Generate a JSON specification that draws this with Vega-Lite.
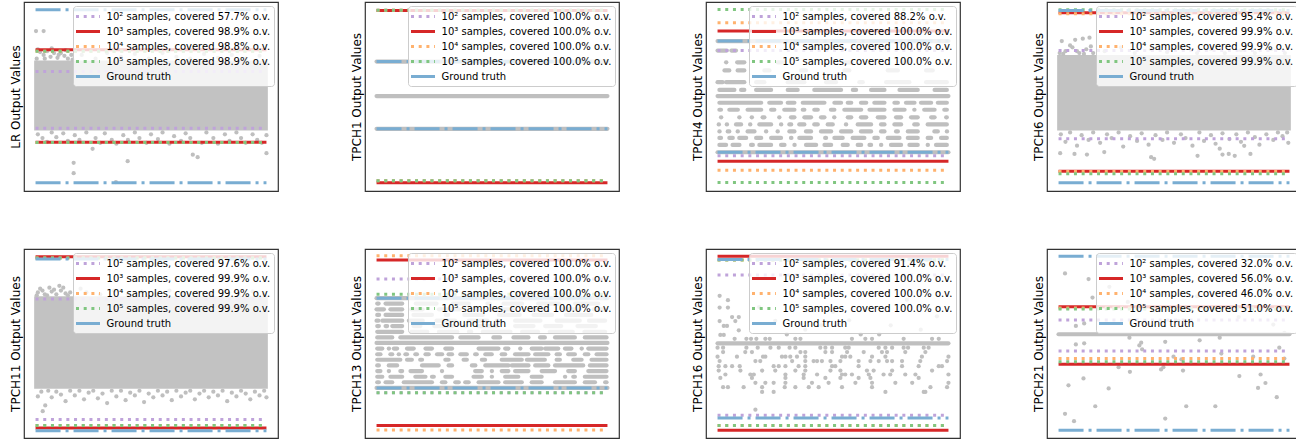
{
"$schema": "https://vega.github.io/schema/vega-lite/v6.json",
"padding": {"left": 8, "top": 1, "right": 0, "bottom": 0},
"columns": 4,
"spacing": {"column": 70, "row": 56},
"resolve": {"scale": {"color": "independent", "strokeDash": "independent"}, "legend": {"color": "independent", "strokeDash": "independent"}},
"concat": [
{
"width": 254, "height": 189,
"encoding": {"y": {"field": "y", "type": "quantitative", "scale": {"domain": [0, 100], "nice": false, "zero": false}, "axis": {"title": "LR Output Values"}}},
"layer": [
{"data": {"values": [{"y": 32, "y2": 69}]}, "mark": {"type": "rect", "color": "#c2c2c2"},
 "encoding": {"x": {"datum": -0.6, "type": "quantitative", "scale": {"domain": [-5, 105], "nice": false}, "axis": null}, "x2": {"datum": 100.6}, "y2": {"field": "y2"}}},
{"data": {"values": [
{"x":0.2,"y":84.6},{"x":3.5,"y":84.6},{"x":0.5,"y":70},{"x":2,"y":73.5},{"x":3.5,"y":72},{"x":5,"y":74},{"x":6.5,"y":71},{"x":8,"y":73},{"x":9.5,"y":70.5},{"x":11,"y":73},{"x":12.5,"y":71.5},{"x":14,"y":70},{"x":15.5,"y":72},{"x":1,"y":75},{"x":4,"y":70},{"x":7,"y":75.5},{"x":10,"y":72},{"x":13,"y":74.5},{"x":16,"y":69.5},
{"x":20,"y":72},{"x":26,"y":70},{"x":31,"y":73},{"x":37,"y":71},{"x":43,"y":72.5},{"x":49,"y":70},{"x":55,"y":73},{"x":61,"y":71},{"x":67,"y":70},{"x":73,"y":72.5},{"x":79,"y":70.5},{"x":85,"y":72},{"x":91,"y":70},{"x":97,"y":71.5},
{"x":1,"y":30},{"x":3,"y":28},{"x":5,"y":26},{"x":7,"y":31},{"x":9,"y":28.5},{"x":12,"y":30.5},{"x":14,"y":26.5},{"x":17,"y":29.5},{"x":19,"y":27},{"x":22,"y":31},{"x":24.7,"y":22.3},{"x":26,"y":28},{"x":28,"y":25.5},{"x":30,"y":30.5},{"x":33,"y":27},{"x":35,"y":25},{"x":38,"y":29.5},{"x":40,"y":27},{"x":43,"y":31},{"x":45,"y":28},{"x":48,"y":25.5},{"x":50,"y":30},{"x":53,"y":27.5},{"x":55,"y":31},{"x":58,"y":25},{"x":60,"y":29},{"x":63,"y":26.5},{"x":65,"y":30.5},{"x":68.1,"y":19.2},{"x":70.2,"y":17.9},{"x":67,"y":28},{"x":72,"y":25.5},{"x":74,"y":31},{"x":77,"y":28},{"x":79,"y":25},{"x":82,"y":30},{"x":84,"y":26.5},{"x":87,"y":31},{"x":89,"y":28},{"x":91,"y":25.5},{"x":94,"y":30},{"x":96,"y":27},{"x":98,"y":25.5},{"x":100,"y":29.5},{"x":100,"y":20},{"x":16.5,"y":14.9},{"x":16.5,"y":9.4},{"x":39.9,"y":15.8},{"x":34.8,"y":4.7}
]}, "mark": {"type": "circle", "size": 18, "color": "#bfbfbf", "opacity": 1},
 "encoding": {"x": {"field": "x", "type": "quantitative", "scale": {"domain": [-5, 105], "nice": false}, "axis": null}}},
{"data": {"values": [
{"s":"10² samples, covered 57.7% o.v.","y":63.2},{"s":"10² samples, covered 57.7% o.v.","y":33.2},
{"s":"10³ samples, covered 98.9% o.v.","y":74.7},{"s":"10³ samples, covered 98.9% o.v.","y":25.8},
{"s":"10⁴ samples, covered 98.8% o.v.","y":74.0},{"s":"10⁴ samples, covered 98.8% o.v.","y":25.6},
{"s":"10⁵ samples, covered 98.9% o.v.","y":74.0},{"s":"10⁵ samples, covered 98.9% o.v.","y":25.6}
]}, "mark": {"type": "rule", "strokeWidth": 3},
 "encoding": {"x": {"datum": 0, "type": "quantitative", "scale": {"domain": [-5, 105], "nice": false}, "axis": null}, "x2": {"datum": 100},
  "color": {"field": "s", "type": "nominal", "scale": {"domain": ["10² samples, covered 57.7% o.v.","10³ samples, covered 98.9% o.v.","10⁴ samples, covered 98.8% o.v.","10⁵ samples, covered 98.9% o.v.","Ground truth"], "range": ["#bfa3da","#d62728","#ffb26e","#80c680","#79add2"]}, "legend": {"title": null, "symbolType": "M-1.25,0H2.75"}},
  "strokeDash": {"field": "s", "type": "nominal", "scale": {"domain": ["10² samples, covered 57.7% o.v.","10³ samples, covered 98.9% o.v.","10⁴ samples, covered 98.8% o.v.","10⁵ samples, covered 98.9% o.v.","Ground truth"], "range": [[3,4.7],[1,0],[3,4.7],[3,4.7],[1,0]]}, "legend": {"title": null, "symbolType": "M-1.25,0H2.75"}}}},
{"data": {"values": [{"s":"Ground truth","y":95.9},{"s":"Ground truth","y":4.3}]}, "mark": {"type": "rule", "strokeWidth": 3, "strokeDash": [25, 5, 3, 5]},
 "encoding": {"x": {"datum": 0, "type": "quantitative", "scale": {"domain": [-5, 105], "nice": false}, "axis": null}, "x2": {"datum": 100},
  "color": {"field": "s", "type": "nominal", "scale": {"domain": ["10² samples, covered 57.7% o.v.","10³ samples, covered 98.9% o.v.","10⁴ samples, covered 98.8% o.v.","10⁵ samples, covered 98.9% o.v.","Ground truth"], "range": ["#bfa3da","#d62728","#ffb26e","#80c680","#79add2"]}, "legend": {"title": null, "symbolType": "M-1.25,0H2.75"}}}}
]
},
{
"width": 254, "height": 189,
"encoding": {"y": {"field": "y", "type": "quantitative", "scale": {"domain": [0, 100], "nice": false, "zero": false}, "axis": {"title": "TPCH1 Output Values"}}},
"layer": [
{"data": {"values": [{"y":68.5,"x":0,"x2":100},{"y":50.2,"x":0,"x2":100},{"y":32.9,"x":0,"x2":100}]}, "mark": {"type": "rule", "strokeWidth": 4.2, "strokeCap": "round", "color": "#bfbfbf"},
 "encoding": {"x": {"field": "x", "type": "quantitative", "scale": {"domain": [-5, 105], "nice": false}, "axis": null}, "x2": {"field": "x2"}}},
{"data": {"values": [
{"s":"10² samples, covered 100.0% o.v.","y":95.7},{"s":"10² samples, covered 100.0% o.v.","y":5.4},
{"s":"10³ samples, covered 100.0% o.v.","y":95.5},{"s":"10³ samples, covered 100.0% o.v.","y":4.3},
{"s":"10⁴ samples, covered 100.0% o.v.","y":95.7},{"s":"10⁴ samples, covered 100.0% o.v.","y":5.4},
{"s":"10⁵ samples, covered 100.0% o.v.","y":95.7},{"s":"10⁵ samples, covered 100.0% o.v.","y":5.4}
]}, "mark": {"type": "rule", "strokeWidth": 3},
 "encoding": {"x": {"datum": 0, "type": "quantitative", "scale": {"domain": [-5, 105], "nice": false}, "axis": null}, "x2": {"datum": 100},
  "color": {"field": "s", "type": "nominal", "scale": {"domain": ["10² samples, covered 100.0% o.v.","10³ samples, covered 100.0% o.v.","10⁴ samples, covered 100.0% o.v.","10⁵ samples, covered 100.0% o.v.","Ground truth"], "range": ["#bfa3da","#d62728","#ffb26e","#80c680","#79add2"]}, "legend": {"title": null, "symbolType": "M-1.25,0H2.75"}},
  "strokeDash": {"field": "s", "type": "nominal", "scale": {"domain": ["10² samples, covered 100.0% o.v.","10³ samples, covered 100.0% o.v.","10⁴ samples, covered 100.0% o.v.","10⁵ samples, covered 100.0% o.v.","Ground truth"], "range": [[3,4.7],[1,0],[3,4.7],[3,4.7],[1,0]]}, "legend": {"title": null, "symbolType": "M-1.25,0H2.75"}}}},
{"data": {"values": [{"s":"Ground truth","y":68.5},{"s":"Ground truth","y":32.9}]}, "mark": {"type": "rule", "strokeWidth": 3, "strokeDash": [25, 5, 3, 5]},
 "encoding": {"x": {"datum": 0, "type": "quantitative", "scale": {"domain": [-5, 105], "nice": false}, "axis": null}, "x2": {"datum": 100},
  "color": {"field": "s", "type": "nominal", "scale": {"domain": ["10² samples, covered 100.0% o.v.","10³ samples, covered 100.0% o.v.","10⁴ samples, covered 100.0% o.v.","10⁵ samples, covered 100.0% o.v.","Ground truth"], "range": ["#bfa3da","#d62728","#ffb26e","#80c680","#79add2"]}, "legend": {"title": null, "symbolType": "M-1.25,0H2.75"}}}}
]
},
{
"width": 254, "height": 189,
"encoding": {"y": {"field": "y", "type": "quantitative", "scale": {"domain": [0, 100], "nice": false, "zero": false}, "axis": {"title": "TPCH4 Output Values"}}},
"layer": [
{"data": {"values": [
{"y":20.5,"x":0,"x2":100},
{"y":24.4,"x":0.8,"x2":3.7},{"y":24.4,"x":6.5,"x2":9.5},{"y":24.4,"x":14.5,"x2":15.3},{"y":24.4,"x":18.1,"x2":23.2},{"y":24.4,"x":27.5,"x2":29},{"y":24.4,"x":33.3,"x2":33.4},{"y":24.4,"x":38.3,"x2":42.7},{"y":24.4,"x":46.3,"x2":49.2},{"y":24.4,"x":54.2,"x2":56.4},{"y":24.4,"x":60.7,"x2":62.2},{"y":24.4,"x":65.8,"x2":66.5},{"y":24.4,"x":70.8,"x2":70.9},{"y":24.4,"x":75.1,"x2":79.5},{"y":24.4,"x":83.1,"x2":86.7},{"y":24.4,"x":91,"x2":91.1},{"y":24.4,"x":94.6,"x2":99.3},
{"y":28.1,"x":0.8,"x2":1.5},{"y":28.1,"x":5.1,"x2":6.6},{"y":28.1,"x":9.4,"x2":12.4},{"y":28.1,"x":16.7,"x2":18.9},{"y":28.1,"x":23.2,"x2":27.5},{"y":28.1,"x":31.8,"x2":32},{"y":28.1,"x":35.4,"x2":40.5},{"y":28.1,"x":46.6,"x2":47},{"y":28.1,"x":50.6,"x2":54.2},{"y":28.1,"x":58.5,"x2":63.6},{"y":28.1,"x":67.9,"x2":69.4},{"y":28.1,"x":73.7,"x2":78.8},{"y":28.1,"x":82.4,"x2":86.7},{"y":28.1,"x":91,"x2":92.5},{"y":28.1,"x":96.8,"x2":99.3},
{"y":31.5,"x":0.8,"x2":0.9},{"y":31.5,"x":4.4,"x2":5.1},{"y":31.5,"x":8.7,"x2":8.8},{"y":31.5,"x":13,"x2":16},{"y":31.5,"x":21,"x2":21.1},{"y":31.5,"x":26,"x2":26.1},{"y":31.5,"x":31.1,"x2":33.3},{"y":31.5,"x":38.3,"x2":40.5},{"y":31.5,"x":44.8,"x2":49.2},{"y":31.5,"x":53.5,"x2":57.9},{"y":31.5,"x":62.1,"x2":66.5},{"y":31.5,"x":70.8,"x2":72.3},{"y":31.5,"x":77.3,"x2":78.1},{"y":31.5,"x":82.4,"x2":86.7},{"y":31.5,"x":93.9,"x2":95.4},{"y":31.5,"x":99.3,"x2":99.4},
{"y":35.2,"x":0.5,"x2":0.6},{"y":35.2,"x":4,"x2":4.1},{"y":35.2,"x":8,"x2":10.2},{"y":35.2,"x":14.1,"x2":14.2},{"y":35.2,"x":18.1,"x2":23.2},{"y":35.2,"x":27.5,"x2":27.6},{"y":35.2,"x":31.1,"x2":31.9},{"y":35.2,"x":35.4,"x2":37.6},{"y":35.2,"x":41.9,"x2":43.4},{"y":35.2,"x":47.7,"x2":49.9},{"y":35.2,"x":55.6,"x2":55.7},{"y":35.2,"x":60.7,"x2":66.5},{"y":35.2,"x":70.8,"x2":72.3},{"y":35.2,"x":76.6,"x2":79.5},{"y":35.2,"x":85.2,"x2":86.7},{"y":35.2,"x":91,"x2":99.3},
{"y":39.0,"x":1.5,"x2":1.6},{"y":39.0,"x":9.4,"x2":9.5},{"y":39.0,"x":14.8,"x2":14.9},{"y":39.0,"x":19.5,"x2":20.3},{"y":39.0,"x":26.7,"x2":26.8},{"y":39.0,"x":31.8,"x2":33.3},{"y":39.0,"x":37.6,"x2":40.5},{"y":39.0,"x":44.8,"x2":46.3},{"y":39.0,"x":50.5,"x2":50.6},{"y":39.0,"x":56.4,"x2":57.9},{"y":39.0,"x":62.1,"x2":64.4},{"y":39.0,"x":69.4,"x2":72.3},{"y":39.0,"x":77.3,"x2":79.5},{"y":39.0,"x":83.8,"x2":86.7},{"y":39.0,"x":92.5,"x2":94},{"y":39.0,"x":99,"x2":99.3},
{"y":43.0,"x":0.8,"x2":1.5},{"y":43.0,"x":5.1,"x2":8.8},{"y":43.0,"x":13,"x2":18.9},{"y":43.0,"x":23.2,"x2":24.6},{"y":43.0,"x":28.9,"x2":33.3},{"y":43.0,"x":36.9,"x2":37.6},{"y":43.0,"x":41.9,"x2":43.4},{"y":43.0,"x":49.1,"x2":50.6},{"y":43.0,"x":54.9,"x2":62.2},{"y":43.0,"x":65.8,"x2":72.3},{"y":43.0,"x":76.6,"x2":81},{"y":43.0,"x":85.2,"x2":85.3},{"y":43.0,"x":89.5,"x2":94},{"y":43.0,"x":98.2,"x2":99.3},
{"y":46.7,"x":0.8,"x2":18.9},{"y":46.7,"x":22.4,"x2":27.5},{"y":46.7,"x":30.4,"x2":33.3},{"y":46.7,"x":36.9,"x2":46.3},{"y":46.7,"x":50.6,"x2":53.5},{"y":46.7,"x":56.4,"x2":57.9},{"y":46.7,"x":62.1,"x2":64.4},{"y":46.7,"x":67.9,"x2":72.3},{"y":46.7,"x":76.6,"x2":78.1},{"y":46.7,"x":81.6,"x2":85.3},{"y":46.7,"x":88.1,"x2":92.5},{"y":46.7,"x":95.4,"x2":99.3},
{"y":50.2,"x":0,"x2":100},
{"y":53.5,"x":0.8,"x2":7.3},{"y":53.5,"x":10.2,"x2":11.6},{"y":53.5,"x":16.7,"x2":23.2},{"y":53.5,"x":30.4,"x2":34.7},{"y":53.5,"x":41.9,"x2":53.5},{"y":53.5,"x":58.6,"x2":60},{"y":53.5,"x":66.5,"x2":72.3},{"y":53.5,"x":78.8,"x2":86.7},{"y":53.5,"x":94,"x2":99.3},
{"y":57.6,"x":0,"x2":2.2},{"y":57.6,"x":3.7,"x2":11.6},{"y":57.6,"x":16.7,"x2":20.3},{"y":57.6,"x":30.4,"x2":37.6},{"y":57.6,"x":47,"x2":51.3},{"y":57.6,"x":61.4,"x2":62.9},{"y":57.6,"x":73,"x2":83.1},{"y":57.6,"x":90.3,"x2":99.3},
{"y":63.8,"x":3,"x2":5.1},{"y":63.8,"x":8.7,"x2":11.6},{"y":63.8,"x":20.3,"x2":22.5},{"y":63.8,"x":36.2,"x2":38.3},{"y":63.8,"x":54.9,"x2":57.1},{"y":63.8,"x":73.7,"x2":78.1},{"y":63.8,"x":90.3,"x2":93.2},
{"y":68.1,"x":3.7,"x2":3.8},{"y":68.1,"x":8.5,"x2":11.6},{"y":68.1,"x":26,"x2":29},{"y":68.1,"x":55,"x2":58},{"y":68.1,"x":80,"x2":83},
{"y":74.3,"x":0,"x2":4},{"y":74.3,"x":6,"x2":8},
{"y":79.3,"x":0,"x2":100}
]}, "mark": {"type": "rule", "strokeWidth": 4.2, "strokeCap": "round", "color": "#bfbfbf"},
 "encoding": {"x": {"field": "x", "type": "quantitative", "scale": {"domain": [-5, 105], "nice": false}, "axis": null}, "x2": {"field": "x2"}}},
{"data": {"values": [
{"s":"10² samples, covered 88.2% o.v.","y":74.3},{"s":"10² samples, covered 88.2% o.v.","y":18.6},
{"s":"10³ samples, covered 100.0% o.v.","y":84.6},{"s":"10³ samples, covered 100.0% o.v.","y":15.8},
{"s":"10⁴ samples, covered 100.0% o.v.","y":89.0},{"s":"10⁴ samples, covered 100.0% o.v.","y":11.0},
{"s":"10⁵ samples, covered 100.0% o.v.","y":96.0},{"s":"10⁵ samples, covered 100.0% o.v.","y":4.5}
]}, "mark": {"type": "rule", "strokeWidth": 3},
 "encoding": {"x": {"datum": 0, "type": "quantitative", "scale": {"domain": [-5, 105], "nice": false}, "axis": null}, "x2": {"datum": 100},
  "color": {"field": "s", "type": "nominal", "scale": {"domain": ["10² samples, covered 88.2% o.v.","10³ samples, covered 100.0% o.v.","10⁴ samples, covered 100.0% o.v.","10⁵ samples, covered 100.0% o.v.","Ground truth"], "range": ["#bfa3da","#d62728","#ffb26e","#80c680","#79add2"]}, "legend": {"title": null, "symbolType": "M-1.25,0H2.75"}},
  "strokeDash": {"field": "s", "type": "nominal", "scale": {"domain": ["10² samples, covered 88.2% o.v.","10³ samples, covered 100.0% o.v.","10⁴ samples, covered 100.0% o.v.","10⁵ samples, covered 100.0% o.v.","Ground truth"], "range": [[3,4.7],[1,0],[3,4.7],[3,4.7],[1,0]]}, "legend": {"title": null, "symbolType": "M-1.25,0H2.75"}}}},
{"data": {"values": [{"s":"Ground truth","y":79.3},{"s":"Ground truth","y":20.5}]}, "mark": {"type": "rule", "strokeWidth": 3, "strokeDash": [25, 5, 3, 5]},
 "encoding": {"x": {"datum": 0, "type": "quantitative", "scale": {"domain": [-5, 105], "nice": false}, "axis": null}, "x2": {"datum": 100},
  "color": {"field": "s", "type": "nominal", "scale": {"domain": ["10² samples, covered 88.2% o.v.","10³ samples, covered 100.0% o.v.","10⁴ samples, covered 100.0% o.v.","10⁵ samples, covered 100.0% o.v.","Ground truth"], "range": ["#bfa3da","#d62728","#ffb26e","#80c680","#79add2"]}, "legend": {"title": null, "symbolType": "M-1.25,0H2.75"}}}}
]
},
{
"width": 254, "height": 189,
"encoding": {"y": {"field": "y", "type": "quantitative", "scale": {"domain": [0, 100], "nice": false, "zero": false}, "axis": {"title": "TPCH6 Output Values"}}},
"layer": [
{"data": {"values": [{"y": 32, "y2": 72}]}, "mark": {"type": "rect", "color": "#c2c2c2"},
 "encoding": {"x": {"datum": -0.6, "type": "quantitative", "scale": {"domain": [-5, 105], "nice": false}, "axis": null}, "x2": {"datum": 100.6}, "y2": {"field": "y2"}}},
{"data": {"values": [
{"x":1.4,"y":79.3},{"x":7.2,"y":80},{"x":10.5,"y":80.6},{"x":13.4,"y":81.1},{"x":3,"y":74},{"x":6,"y":76},{"x":9,"y":73},{"x":12,"y":75},{"x":15,"y":73},{"x":2,"y":72.5},{"x":5,"y":77},{"x":8,"y":74},{"x":11,"y":72.5},{"x":14,"y":76.5},{"x":0.5,"y":73},
{"x":20,"y":74},{"x":27,"y":76},{"x":33,"y":73},{"x":40,"y":75},{"x":47,"y":73.5},{"x":53,"y":76},{"x":60,"y":73},{"x":66,"y":75},{"x":72,"y":73},{"x":79,"y":74.5},{"x":85,"y":73},{"x":92,"y":75},{"x":98,"y":73},
{"x":0.7,"y":20},{"x":6.9,"y":19.6},{"x":12.3,"y":19.3},{"x":19.8,"y":20.6},{"x":40.1,"y":17.9},{"x":41.4,"y":17},{"x":60.2,"y":18.6},{"x":71,"y":19.3},{"x":73.7,"y":19.6},{"x":76.3,"y":18.6},{"x":83.1,"y":19.6},{"x":69.8,"y":22.4},{"x":80.4,"y":23.9},
{"x":1,"y":30},{"x":3,"y":26},{"x":5,"y":31},{"x":8,"y":24},{"x":10,"y":29.5},{"x":13,"y":27},{"x":15,"y":31},{"x":18,"y":25.5},{"x":21,"y":30},{"x":23,"y":28},{"x":26,"y":31},{"x":28,"y":23.5},{"x":31,"y":29},{"x":34,"y":26.5},{"x":36,"y":30.5},{"x":39,"y":24.5},{"x":42,"y":29.5},{"x":45,"y":27},{"x":47,"y":31},{"x":50,"y":25.5},{"x":53,"y":30},{"x":55,"y":28},{"x":58,"y":24},{"x":61,"y":31},{"x":63,"y":26.5},{"x":66,"y":29.5},{"x":68,"y":25},{"x":71,"y":30.5},{"x":74,"y":27.5},{"x":77,"y":30},{"x":79,"y":26},{"x":82,"y":31},{"x":85,"y":28.5},{"x":87,"y":24.5},{"x":90,"y":30},{"x":93,"y":27},{"x":95,"y":31},{"x":97,"y":29},{"x":99.5,"y":25.5},{"x":99,"y":31}
]}, "mark": {"type": "circle", "size": 18, "color": "#bfbfbf", "opacity": 1},
 "encoding": {"x": {"field": "x", "type": "quantitative", "scale": {"domain": [-5, 105], "nice": false}, "axis": null}}},
{"data": {"values": [
{"s":"10² samples, covered 95.4% o.v.","y":74.3},{"s":"10² samples, covered 95.4% o.v.","y":27.6},
{"s":"10³ samples, covered 99.9% o.v.","y":94.3},{"s":"10³ samples, covered 99.9% o.v.","y":10.5},
{"s":"10⁴ samples, covered 99.9% o.v.","y":93.8},{"s":"10⁴ samples, covered 99.9% o.v.","y":10.3},
{"s":"10⁵ samples, covered 99.9% o.v.","y":95.9},{"s":"10⁵ samples, covered 99.9% o.v.","y":9.1}
]}, "mark": {"type": "rule", "strokeWidth": 3},
 "encoding": {"x": {"datum": 0, "type": "quantitative", "scale": {"domain": [-5, 105], "nice": false}, "axis": null}, "x2": {"datum": 100},
  "color": {"field": "s", "type": "nominal", "scale": {"domain": ["10² samples, covered 95.4% o.v.","10³ samples, covered 99.9% o.v.","10⁴ samples, covered 99.9% o.v.","10⁵ samples, covered 99.9% o.v.","Ground truth"], "range": ["#bfa3da","#d62728","#ffb26e","#80c680","#79add2"]}, "legend": {"title": null, "symbolType": "M-1.25,0H2.75"}},
  "strokeDash": {"field": "s", "type": "nominal", "scale": {"domain": ["10² samples, covered 95.4% o.v.","10³ samples, covered 99.9% o.v.","10⁴ samples, covered 99.9% o.v.","10⁵ samples, covered 99.9% o.v.","Ground truth"], "range": [[3,4.7],[1,0],[3,4.7],[3,4.7],[1,0]]}, "legend": {"title": null, "symbolType": "M-1.25,0H2.75"}}}},
{"data": {"values": [{"s":"Ground truth","y":95.5},{"s":"Ground truth","y":4.3}]}, "mark": {"type": "rule", "strokeWidth": 3, "strokeDash": [25, 5, 3, 5]},
 "encoding": {"x": {"datum": 0, "type": "quantitative", "scale": {"domain": [-5, 105], "nice": false}, "axis": null}, "x2": {"datum": 100},
  "color": {"field": "s", "type": "nominal", "scale": {"domain": ["10² samples, covered 95.4% o.v.","10³ samples, covered 99.9% o.v.","10⁴ samples, covered 99.9% o.v.","10⁵ samples, covered 99.9% o.v.","Ground truth"], "range": ["#bfa3da","#d62728","#ffb26e","#80c680","#79add2"]}, "legend": {"title": null, "symbolType": "M-1.25,0H2.75"}}}}
]
},
{
"width": 254, "height": 189,
"encoding": {"y": {"field": "y", "type": "quantitative", "scale": {"domain": [0, 100], "nice": false, "zero": false}, "axis": {"title": "TPCH11 Output Values"}}},
"layer": [
{"data": {"values": [{"y": 26, "y2": 75}]}, "mark": {"type": "rect", "color": "#c2c2c2"},
 "encoding": {"x": {"datum": -0.6, "type": "quantitative", "scale": {"domain": [-5, 105], "nice": false}, "axis": null}, "x2": {"datum": 100.6}, "y2": {"field": "y2"}}},
{"data": {"values": [
{"x":10.3,"y":80.5},{"x":19.5,"y":79},{"x":1,"y":77},{"x":3,"y":78},{"x":5,"y":75.5},{"x":7,"y":77.5},{"x":9,"y":76},{"x":11,"y":78},{"x":13,"y":76.5},{"x":15,"y":77},{"x":2,"y":79},{"x":4,"y":76},{"x":6,"y":79.5},{"x":8,"y":78.5},{"x":12,"y":79.5},{"x":14,"y":75.5},{"x":0.5,"y":75.5},
{"x":22,"y":77},{"x":28,"y":76},{"x":34,"y":78},{"x":40,"y":76},{"x":46,"y":77.5},{"x":52,"y":76},{"x":58,"y":78},{"x":64,"y":76.5},{"x":70,"y":77},{"x":76,"y":76},{"x":82,"y":78},{"x":88,"y":76},{"x":94,"y":77.5},{"x":99,"y":76},
{"x":3.1,"y":14.2},{"x":4.2,"y":17.2},{"x":1,"y":22},{"x":2.5,"y":24.5},{"x":5.5,"y":25},{"x":7,"y":21.5},{"x":9,"y":24.5},{"x":11,"y":23},{"x":13,"y":19.5},{"x":15,"y":25},{"x":17,"y":22.5},{"x":19,"y":25},{"x":21,"y":20.5},{"x":23,"y":24},{"x":25,"y":25},{"x":27,"y":21},{"x":29,"y":23.5},{"x":31,"y":18.5},{"x":33,"y":25},{"x":35,"y":22},{"x":37,"y":25},{"x":39,"y":20},{"x":41,"y":24},{"x":43,"y":22.5},{"x":45,"y":25},{"x":47,"y":19},{"x":49,"y":23.5},{"x":51,"y":21.5},{"x":53,"y":25},{"x":55,"y":22.5},{"x":57,"y":24.5},{"x":59,"y":20},{"x":61,"y":25},{"x":63,"y":22},{"x":65,"y":24},{"x":67,"y":25},{"x":69,"y":20.5},{"x":71,"y":23.5},{"x":73,"y":25},{"x":75,"y":21.5},{"x":77,"y":24.5},{"x":79,"y":22.5},{"x":81,"y":25},{"x":83,"y":19.5},{"x":85,"y":24},{"x":87,"y":22},{"x":89,"y":25},{"x":91,"y":23.5},{"x":93,"y":20.5},{"x":95,"y":24.5},{"x":97,"y":22.5},{"x":99,"y":25},{"x":100,"y":21.5}
]}, "mark": {"type": "circle", "size": 18, "color": "#bfbfbf", "opacity": 1},
 "encoding": {"x": {"field": "x", "type": "quantitative", "scale": {"domain": [-5, 105], "nice": false}, "axis": null}}},
{"data": {"values": [
{"s":"10² samples, covered 97.6% o.v.","y":73.5},{"s":"10² samples, covered 97.6% o.v.","y":9.8},
{"s":"10³ samples, covered 99.9% o.v.","y":95.9},{"s":"10³ samples, covered 99.9% o.v.","y":5.3},
{"s":"10⁴ samples, covered 99.9% o.v.","y":95.2},{"s":"10⁴ samples, covered 99.9% o.v.","y":6.6},
{"s":"10⁵ samples, covered 99.9% o.v.","y":95.2},{"s":"10⁵ samples, covered 99.9% o.v.","y":6.6}
]}, "mark": {"type": "rule", "strokeWidth": 3},
 "encoding": {"x": {"datum": 0, "type": "quantitative", "scale": {"domain": [-5, 105], "nice": false}, "axis": null}, "x2": {"datum": 100},
  "color": {"field": "s", "type": "nominal", "scale": {"domain": ["10² samples, covered 97.6% o.v.","10³ samples, covered 99.9% o.v.","10⁴ samples, covered 99.9% o.v.","10⁵ samples, covered 99.9% o.v.","Ground truth"], "range": ["#bfa3da","#d62728","#ffb26e","#80c680","#79add2"]}, "legend": {"title": null, "symbolType": "M-1.25,0H2.75"}},
  "strokeDash": {"field": "s", "type": "nominal", "scale": {"domain": ["10² samples, covered 97.6% o.v.","10³ samples, covered 99.9% o.v.","10⁴ samples, covered 99.9% o.v.","10⁵ samples, covered 99.9% o.v.","Ground truth"], "range": [[3,4.7],[1,0],[3,4.7],[3,4.7],[1,0]]}, "legend": {"title": null, "symbolType": "M-1.25,0H2.75"}}}},
{"data": {"values": [{"s":"Ground truth","y":94.7},{"s":"Ground truth","y":3.9}]}, "mark": {"type": "rule", "strokeWidth": 3, "strokeDash": [25, 5, 3, 5]},
 "encoding": {"x": {"datum": 0, "type": "quantitative", "scale": {"domain": [-5, 105], "nice": false}, "axis": null}, "x2": {"datum": 100},
  "color": {"field": "s", "type": "nominal", "scale": {"domain": ["10² samples, covered 97.6% o.v.","10³ samples, covered 99.9% o.v.","10⁴ samples, covered 99.9% o.v.","10⁵ samples, covered 99.9% o.v.","Ground truth"], "range": ["#bfa3da","#d62728","#ffb26e","#80c680","#79add2"]}, "legend": {"title": null, "symbolType": "M-1.25,0H2.75"}}}}
]
},
{
"width": 254, "height": 189,
"encoding": {"y": {"field": "y", "type": "quantitative", "scale": {"domain": [0, 100], "nice": false, "zero": false}, "axis": {"title": "TPCH13 Output Values"}}},
"layer": [
{"data": {"values": [
{"y":26.5,"x":0,"x2":100},
{"y":29.5,"x":0.3,"x2":1},{"y":29.5,"x":3.9,"x2":6.8},{"y":29.5,"x":11.8,"x2":24},{"y":29.5,"x":28.3,"x2":29.8},{"y":29.5,"x":34.1,"x2":35.6},{"y":29.5,"x":38.4,"x2":39.9},{"y":29.5,"x":44.2,"x2":52.8},{"y":29.5,"x":55.7,"x2":62.9},{"y":29.5,"x":67.2,"x2":71.5},{"y":29.5,"x":77.3,"x2":85.9},{"y":29.5,"x":90.2,"x2":94.6},{"y":29.5,"x":99,"x2":99.6},
{"y":32.4,"x":0.3,"x2":2.5},{"y":32.4,"x":6,"x2":11.1},{"y":32.4,"x":16.8,"x2":21.2},{"y":32.4,"x":24,"x2":24.8},{"y":32.4,"x":29.8,"x2":32.7},{"y":32.4,"x":42,"x2":45.6},{"y":32.4,"x":49.9,"x2":50},{"y":32.4,"x":55.7,"x2":61.4},{"y":32.4,"x":67.2,"x2":71.5},{"y":32.4,"x":81.6,"x2":81.7},{"y":32.4,"x":85.2,"x2":85.9},{"y":32.4,"x":90.2,"x2":99.6},
{"y":35.4,"x":0.3,"x2":1.7},{"y":35.4,"x":5.3,"x2":5.4},{"y":35.4,"x":10.3,"x2":11.1},{"y":35.4,"x":14.7,"x2":19.7},{"y":35.4,"x":28.3,"x2":28.4},{"y":35.4,"x":42.7,"x2":45.6},{"y":35.4,"x":49.9,"x2":50},{"y":35.4,"x":54.2,"x2":57.1},{"y":35.4,"x":60,"x2":65.8},{"y":35.4,"x":71.5,"x2":77.3},{"y":35.4,"x":83,"x2":85.9},{"y":35.4,"x":91.7,"x2":99.6},
{"y":38.4,"x":0.3,"x2":1},{"y":38.4,"x":5.3,"x2":8.9},{"y":38.4,"x":19.7,"x2":26.9},{"y":38.4,"x":31.2,"x2":32.7},{"y":38.4,"x":41.3,"x2":42.8},{"y":38.4,"x":47.1,"x2":57.1},{"y":38.4,"x":58.6,"x2":65.8},{"y":38.4,"x":68.7,"x2":74.4},{"y":38.4,"x":77.3,"x2":89.5},{"y":38.4,"x":92.4,"x2":99.6},
{"y":41.4,"x":0.3,"x2":10.3},{"y":41.4,"x":13.2,"x2":15.3},{"y":41.4,"x":18.9,"x2":19.7},{"y":41.4,"x":29.8,"x2":31.2},{"y":41.4,"x":37.7,"x2":39.1},{"y":41.4,"x":45.6,"x2":47},{"y":41.4,"x":54.2,"x2":62.9},{"y":41.4,"x":65.1,"x2":72.9},{"y":41.4,"x":78,"x2":79.4},{"y":41.4,"x":85.2,"x2":88.8},{"y":41.4,"x":93.1,"x2":99.6},
{"y":44.3,"x":0.3,"x2":1.7},{"y":44.3,"x":6,"x2":6.8},{"y":44.3,"x":9.6,"x2":9.7},{"y":44.3,"x":12.5,"x2":13.2},{"y":44.3,"x":16.8,"x2":17.5},{"y":44.3,"x":21.2,"x2":22.6},{"y":44.3,"x":26.2,"x2":28.4},{"y":44.3,"x":31.2,"x2":32.7},{"y":44.3,"x":36.3,"x2":39.1},{"y":44.3,"x":42.7,"x2":43.4},{"y":44.3,"x":47.1,"x2":49.9},{"y":44.3,"x":54.2,"x2":55.7},{"y":44.3,"x":60,"x2":65.8},{"y":44.3,"x":68.7,"x2":74.4},{"y":44.3,"x":78,"x2":79.4},{"y":44.3,"x":83,"x2":85.9},{"y":44.3,"x":90.2,"x2":91.7},{"y":44.3,"x":95.3,"x2":99.6},
{"y":47.3,"x":0.3,"x2":2.5},{"y":47.3,"x":5.3,"x2":5.4},{"y":47.3,"x":7.5,"x2":8.9},{"y":47.3,"x":13.2,"x2":16.1},{"y":47.3,"x":21.2,"x2":24},{"y":47.3,"x":29.8,"x2":32.7},{"y":47.3,"x":44.2,"x2":52.8},{"y":47.3,"x":55.7,"x2":57.1},{"y":47.3,"x":62.2,"x2":62.3},{"y":47.3,"x":67.2,"x2":71.5},{"y":47.3,"x":73,"x2":78.7},{"y":47.3,"x":81.6,"x2":84.4},{"y":47.3,"x":88.8,"x2":88.9},{"y":47.3,"x":91.7,"x2":99.6},
{"y":50.3,"x":0,"x2":100},
{"y":53.2,"x":0.3,"x2":6.8},{"y":53.2,"x":10.3,"x2":32.7},{"y":53.2,"x":36.3,"x2":44.2},{"y":53.2,"x":50.6,"x2":53.5},{"y":53.2,"x":59.3,"x2":65.8},{"y":53.2,"x":70.8,"x2":72.9},{"y":53.2,"x":77.3,"x2":85.9},{"y":53.2,"x":90.2,"x2":99.6},
{"y":56.2,"x":0.3,"x2":11.1},{"y":56.2,"x":15,"x2":22},{"y":56.2,"x":27,"x2":35},{"y":56.2,"x":40,"x2":41},{"y":56.2,"x":46,"x2":58},{"y":56.2,"x":63,"x2":70},{"y":56.2,"x":75,"x2":85},{"y":56.2,"x":90,"x2":99},
{"y":59.2,"x":0.3,"x2":1},{"y":59.2,"x":3.9,"x2":4.6},{"y":59.2,"x":6.8,"x2":11.1},{"y":59.2,"x":16,"x2":19},{"y":59.2,"x":25,"x2":33},{"y":59.2,"x":38,"x2":39},{"y":59.2,"x":44,"x2":52},{"y":59.2,"x":60,"x2":68},{"y":59.2,"x":73,"x2":80},{"y":59.2,"x":87,"x2":95},
{"y":62.1,"x":0,"x2":0.8},{"y":62.1,"x":2.5,"x2":11.1},{"y":62.1,"x":14,"x2":20},{"y":62.1,"x":26,"x2":34},{"y":62.1,"x":40,"x2":48},{"y":62.1,"x":52,"x2":53},{"y":62.1,"x":60,"x2":71},{"y":62.1,"x":78,"x2":88},{"y":62.1,"x":92,"x2":99},
{"y":65.1,"x":0.3,"x2":1.1},{"y":65.1,"x":3.9,"x2":11.1},{"y":65.1,"x":16,"x2":24},{"y":65.1,"x":30,"x2":31},{"y":65.1,"x":38,"x2":46},{"y":65.1,"x":53,"x2":62},{"y":65.1,"x":68,"x2":76},{"y":65.1,"x":82,"x2":93},
{"y":68.1,"x":0,"x2":3.2},{"y":68.1,"x":6,"x2":11.1},{"y":68.1,"x":15,"x2":20},{"y":68.1,"x":27,"x2":36},{"y":68.1,"x":43,"x2":44},{"y":68.1,"x":50,"x2":59},{"y":68.1,"x":66,"x2":74},{"y":68.1,"x":80,"x2":88},{"y":68.1,"x":94,"x2":99},
{"y":71.1,"x":0.3,"x2":0.9},{"y":71.1,"x":3.9,"x2":11.1},{"y":71.1,"x":17,"x2":26},{"y":71.1,"x":33,"x2":40},{"y":71.1,"x":48,"x2":49},{"y":71.1,"x":55,"x2":63},{"y":71.1,"x":70,"x2":79},{"y":71.1,"x":86,"x2":96},
{"y":74.0,"x":0,"x2":100}
]}, "mark": {"type": "rule", "strokeWidth": 4.2, "strokeCap": "round", "color": "#bfbfbf"},
 "encoding": {"x": {"field": "x", "type": "quantitative", "scale": {"domain": [-5, 105], "nice": false}, "axis": null}, "x2": {"field": "x2"}}},
{"data": {"values": [
{"s":"10² samples, covered 100.0% o.v.","y":84.1},{"s":"10² samples, covered 100.0% o.v.","y":23.9},
{"s":"10³ samples, covered 100.0% o.v.","y":94.2},{"s":"10³ samples, covered 100.0% o.v.","y":6.6},
{"s":"10⁴ samples, covered 100.0% o.v.","y":96.4},{"s":"10⁴ samples, covered 100.0% o.v.","y":4.2},
{"s":"10⁵ samples, covered 100.0% o.v.","y":76.1},{"s":"10⁵ samples, covered 100.0% o.v.","y":23.9}
]}, "mark": {"type": "rule", "strokeWidth": 3},
 "encoding": {"x": {"datum": 0, "type": "quantitative", "scale": {"domain": [-5, 105], "nice": false}, "axis": null}, "x2": {"datum": 100},
  "color": {"field": "s", "type": "nominal", "scale": {"domain": ["10² samples, covered 100.0% o.v.","10³ samples, covered 100.0% o.v.","10⁴ samples, covered 100.0% o.v.","10⁵ samples, covered 100.0% o.v.","Ground truth"], "range": ["#bfa3da","#d62728","#ffb26e","#80c680","#79add2"]}, "legend": {"title": null, "symbolType": "M-1.25,0H2.75"}},
  "strokeDash": {"field": "s", "type": "nominal", "scale": {"domain": ["10² samples, covered 100.0% o.v.","10³ samples, covered 100.0% o.v.","10⁴ samples, covered 100.0% o.v.","10⁵ samples, covered 100.0% o.v.","Ground truth"], "range": [[3,4.7],[1,0],[3,4.7],[3,4.7],[1,0]]}, "legend": {"title": null, "symbolType": "M-1.25,0H2.75"}}}},
{"data": {"values": [{"s":"Ground truth","y":74.0},{"s":"Ground truth","y":26.5}]}, "mark": {"type": "rule", "strokeWidth": 3, "strokeDash": [25, 5, 3, 5]},
 "encoding": {"x": {"datum": 0, "type": "quantitative", "scale": {"domain": [-5, 105], "nice": false}, "axis": null}, "x2": {"datum": 100},
  "color": {"field": "s", "type": "nominal", "scale": {"domain": ["10² samples, covered 100.0% o.v.","10³ samples, covered 100.0% o.v.","10⁴ samples, covered 100.0% o.v.","10⁵ samples, covered 100.0% o.v.","Ground truth"], "range": ["#bfa3da","#d62728","#ffb26e","#80c680","#79add2"]}, "legend": {"title": null, "symbolType": "M-1.25,0H2.75"}}}}
]
},
{
"width": 254, "height": 189,
"encoding": {"y": {"field": "y", "type": "quantitative", "scale": {"domain": [0, 100], "nice": false, "zero": false}, "axis": {"title": "TPCH16 Output Values"}}},
"layer": [
{"data": {"values": [{"y":50.1,"x":0,"x2":100}]}, "mark": {"type": "rule", "strokeWidth": 4.2, "strokeCap": "round", "color": "#bfbfbf"},
 "encoding": {"x": {"field": "x", "type": "quantitative", "scale": {"domain": [-5, 105], "nice": false}, "axis": null}, "x2": {"field": "x2"}}},
{"data": {"values": [
{"x":0.9,"y":75.2},{"x":4.5,"y":72.9},{"x":0.9,"y":69.0},{"x":4.5,"y":69.0},{"x":6.3,"y":64.0},{"x":9.2,"y":64.0},{"x":0.9,"y":61.9},{"x":7.7,"y":61.9},{"x":2.7,"y":59.3},{"x":4.1,"y":59.3},{"x":9.2,"y":57.0},{"x":1.2,"y":54.5},{"x":2.7,"y":54.5},
{"x":25,"y":62},{"x":38,"y":57.3},{"x":50,"y":66.7},{"x":62,"y":54.8},{"x":75,"y":59.6},{"x":88,"y":57.3},{"x":95,"y":64.4},{"x":30,"y":54.8},{"x":45,"y":59.6},{"x":70,"y":54.8},{"x":18,"y":69.3},{"x":57,"y":62.3},{"x":82,"y":73.2},
{"x":7.4,"y":52.5},{"x":12.5,"y":52.5},{"x":14.5,"y":52.5},{"x":16.8,"y":52.5},{"x":20.7,"y":52.5},{"x":22.6,"y":52.5},{"x":33.7,"y":52.5},{"x":35.9,"y":52.5},{"x":58.2,"y":52.5},{"x":64.0,"y":52.5},{"x":66.9,"y":52.5},{"x":80.6,"y":52.5},{"x":92.9,"y":52.5},{"x":95.8,"y":52.5},
{"x":0,"y":47.8},{"x":2.4,"y":47.8},{"x":12.5,"y":47.8},{"x":17.4,"y":47.8},{"x":22.9,"y":47.8},{"x":26.5,"y":47.8},{"x":31.2,"y":47.8},{"x":33.7,"y":47.8},{"x":44.5,"y":47.8},{"x":46.7,"y":47.8},{"x":49.6,"y":47.8},{"x":55.3,"y":47.8},{"x":56.8,"y":47.8},{"x":69.8,"y":47.8},{"x":72.7,"y":47.8},{"x":75.6,"y":47.8},{"x":80.6,"y":47.8},{"x":82.5,"y":47.8},{"x":89.3,"y":47.8},{"x":91.4,"y":47.8},
{"x":2.4,"y":45.5},{"x":12.0,"y":45.5},{"x":14.9,"y":45.5},{"x":35.9,"y":45.5},{"x":38.0,"y":45.5},{"x":46.7,"y":45.5},{"x":49.6,"y":45.5},{"x":56.1,"y":45.5},{"x":63.3,"y":45.5},{"x":71.2,"y":45.5},{"x":73.4,"y":45.5},{"x":81.3,"y":45.5},{"x":90.0,"y":45.5},
{"x":0,"y":43.0},{"x":8.4,"y":43.0},{"x":19.7,"y":43.0},{"x":20.7,"y":43.0},{"x":27.9,"y":43.0},{"x":29.4,"y":43.0},{"x":31.5,"y":43.0},{"x":34.4,"y":43.0},{"x":38.0,"y":43.0},{"x":53.9,"y":43.0},{"x":55.3,"y":43.0},{"x":57.5,"y":43.0},{"x":66.9,"y":43.0},{"x":72.7,"y":43.0},{"x":88.5,"y":43.0},{"x":100,"y":43.0},
{"x":0.9,"y":40.7},{"x":16.4,"y":40.7},{"x":18.5,"y":40.7},{"x":32.3,"y":40.7},{"x":38.0,"y":40.7},{"x":41.6,"y":40.7},{"x":43.1,"y":40.7},{"x":45.2,"y":40.7},{"x":48.9,"y":40.7},{"x":53.2,"y":40.7},{"x":61.1,"y":40.7},{"x":66.2,"y":40.7},{"x":69.8,"y":40.7},{"x":73.4,"y":40.7},{"x":75.6,"y":40.7},{"x":79.9,"y":40.7},{"x":87.8,"y":40.7},{"x":99.4,"y":40.7},
{"x":0.5,"y":38.0},{"x":3.4,"y":38.0},{"x":6.3,"y":38.0},{"x":9.6,"y":38.0},{"x":24.3,"y":38.0},{"x":26.5,"y":38.0},{"x":29.4,"y":38.0},{"x":35.1,"y":38.0},{"x":38.0,"y":38.0},{"x":49.6,"y":38.0},{"x":51.0,"y":38.0},{"x":61.1,"y":38.0},{"x":79.9,"y":38.0},{"x":87.1,"y":38.0},{"x":95.8,"y":38.0},{"x":97.2,"y":38.0},
{"x":0.5,"y":35.7},{"x":9.9,"y":35.7},{"x":19.3,"y":35.7},{"x":25.0,"y":35.7},{"x":33.7,"y":35.7},{"x":38.0,"y":35.7},{"x":48.9,"y":35.7},{"x":53.2,"y":35.7},{"x":64.7,"y":35.7},{"x":67.6,"y":35.7},{"x":75.6,"y":35.7},{"x":92.9,"y":35.7},
{"x":3.4,"y":33.6},{"x":14.2,"y":33.6},{"x":15.7,"y":33.6},{"x":29.4,"y":33.6},{"x":37.3,"y":33.6},{"x":43.1,"y":33.6},{"x":53.9,"y":33.6},{"x":55.3,"y":33.6},{"x":58.2,"y":33.6},{"x":65.5,"y":33.6},{"x":71.9,"y":33.6},{"x":74.8,"y":33.6},{"x":81.3,"y":33.6},{"x":85.7,"y":33.6},{"x":100,"y":33.6},
{"x":1.2,"y":31.8},{"x":14.9,"y":31.8},{"x":29.4,"y":31.8},{"x":37.3,"y":31.8},{"x":46.7,"y":31.8},{"x":53.2,"y":31.8},{"x":61.1,"y":31.8},{"x":66.2,"y":31.8},{"x":87.1,"y":31.8},
{"x":16.4,"y":29.2},{"x":20.7,"y":29.2},{"x":24.3,"y":29.2},{"x":29.4,"y":29.2},{"x":40.9,"y":29.2},{"x":48.1,"y":29.2},{"x":59.7,"y":29.2},{"x":66.9,"y":29.2},{"x":77.0,"y":29.2},{"x":84.3,"y":29.2},{"x":100,"y":29.2},
{"x":2.4,"y":26.9},{"x":4.5,"y":26.9},{"x":11.3,"y":26.9},{"x":19.3,"y":26.9},{"x":29.1,"y":26.9},{"x":33.7,"y":26.9},{"x":39.5,"y":26.9},{"x":43.8,"y":26.9},{"x":53.9,"y":26.9},{"x":66.9,"y":26.9},{"x":92.2,"y":26.9},{"x":99.4,"y":26.9},
{"x":19.3,"y":24.4},{"x":24.3,"y":24.4},{"x":72.7,"y":24.4},{"x":89.3,"y":24.4},{"x":90.0,"y":24.4},{"x":16.4,"y":15.0}
]}, "mark": {"type": "circle", "size": 18, "color": "#bfbfbf", "opacity": 1},
 "encoding": {"x": {"field": "x", "type": "quantitative", "scale": {"domain": [-5, 105], "nice": false}, "axis": null}}},
{"data": {"values": [
{"s":"10² samples, covered 91.4% o.v.","y":86.2},{"s":"10² samples, covered 91.4% o.v.","y":12.0},
{"s":"10³ samples, covered 100.0% o.v.","y":96.1},{"s":"10³ samples, covered 100.0% o.v.","y":4.1},
{"s":"10⁴ samples, covered 100.0% o.v.","y":94.2},{"s":"10⁴ samples, covered 100.0% o.v.","y":6.6},
{"s":"10⁵ samples, covered 100.0% o.v.","y":94.2},{"s":"10⁵ samples, covered 100.0% o.v.","y":6.6}
]}, "mark": {"type": "rule", "strokeWidth": 3},
 "encoding": {"x": {"datum": 0, "type": "quantitative", "scale": {"domain": [-5, 105], "nice": false}, "axis": null}, "x2": {"datum": 100},
  "color": {"field": "s", "type": "nominal", "scale": {"domain": ["10² samples, covered 91.4% o.v.","10³ samples, covered 100.0% o.v.","10⁴ samples, covered 100.0% o.v.","10⁵ samples, covered 100.0% o.v.","Ground truth"], "range": ["#bfa3da","#d62728","#ffb26e","#80c680","#79add2"]}, "legend": {"title": null, "symbolType": "M-1.25,0H2.75"}},
  "strokeDash": {"field": "s", "type": "nominal", "scale": {"domain": ["10² samples, covered 91.4% o.v.","10³ samples, covered 100.0% o.v.","10⁴ samples, covered 100.0% o.v.","10⁵ samples, covered 100.0% o.v.","Ground truth"], "range": [[3,4.7],[1,0],[3,4.7],[3,4.7],[1,0]]}, "legend": {"title": null, "symbolType": "M-1.25,0H2.75"}}}},
{"data": {"values": [{"s":"Ground truth","y":94.5},{"s":"Ground truth","y":10.6}]}, "mark": {"type": "rule", "strokeWidth": 3, "strokeDash": [25, 5, 3, 5]},
 "encoding": {"x": {"datum": 0, "type": "quantitative", "scale": {"domain": [-5, 105], "nice": false}, "axis": null}, "x2": {"datum": 100},
  "color": {"field": "s", "type": "nominal", "scale": {"domain": ["10² samples, covered 91.4% o.v.","10³ samples, covered 100.0% o.v.","10⁴ samples, covered 100.0% o.v.","10⁵ samples, covered 100.0% o.v.","Ground truth"], "range": ["#bfa3da","#d62728","#ffb26e","#80c680","#79add2"]}, "legend": {"title": null, "symbolType": "M-1.25,0H2.75"}}}}
]
},
{
"width": 254, "height": 189,
"encoding": {"y": {"field": "y", "type": "quantitative", "scale": {"domain": [0, 100], "nice": false, "zero": false}, "axis": {"title": "TPCH21 Output Values"}}},
"layer": [
{"data": {"values": [{"y":54.9,"x":0,"x2":100}]}, "mark": {"type": "rule", "strokeWidth": 4.2, "strokeCap": "round", "color": "#bfbfbf"},
 "encoding": {"x": {"field": "x", "type": "quantitative", "scale": {"domain": [-5, 105], "nice": false}, "axis": null}, "x2": {"field": "x2"}}},
{"data": {"values": [
{"x":2.8,"y":87.1},{"x":13.0,"y":84.1},{"x":14.7,"y":74.3},{"x":7.5,"y":59.3},{"x":11.1,"y":60.6},{"x":7.5,"y":49.5},{"x":11.1,"y":50.1},{"x":4.3,"y":27.9},{"x":10.8,"y":31.5},{"x":2.8,"y":12.8},{"x":6.7,"y":8.9},{"x":15.9,"y":16.8},{"x":21.7,"y":26.2},{"x":26.0,"y":37.5},{"x":30.9,"y":35.0},{"x":30.7,"y":53.1},{"x":35.0,"y":49.0},{"x":36.2,"y":46.9},{"x":35.8,"y":50.4},{"x":44.4,"y":36.3},{"x":45.4,"y":37.5},{"x":46.2,"y":50.9},{"x":46.2,"y":10.3},{"x":49.8,"y":43.0},{"x":53.9,"y":35.7},{"x":53.2,"y":41.6},{"x":55.3,"y":16.8},{"x":61.1,"y":51.7},{"x":67.9,"y":16.8},{"x":69.8,"y":53.1},{"x":70.5,"y":44.7},{"x":78.3,"y":32.8},{"x":84.3,"y":43.0},{"x":86.4,"y":26.5},{"x":87.5,"y":33.6},{"x":89.6,"y":29.1},{"x":94.5,"y":21.6},{"x":95.6,"y":47.8},{"x":97.8,"y":55.6},{"x":97.8,"y":42.0},
{"x":22,"y":80},{"x":30,"y":72},{"x":40,"y":85},{"x":52,"y":62},{"x":60,"y":75},{"x":70,"y":90},{"x":78,"y":64},{"x":88,"y":78},{"x":93,"y":60}
]}, "mark": {"type": "circle", "size": 18, "color": "#bfbfbf", "opacity": 1},
 "encoding": {"x": {"field": "x", "type": "quantitative", "scale": {"domain": [-5, 105], "nice": false}, "axis": null}}},
{"data": {"values": [
{"s":"10² samples, covered 32.0% o.v.","y":62.5},{"s":"10² samples, covered 32.0% o.v.","y":46.0},
{"s":"10³ samples, covered 56.0% o.v.","y":69.5},{"s":"10³ samples, covered 56.0% o.v.","y":39.0},
{"s":"10⁴ samples, covered 46.0% o.v.","y":68.8},{"s":"10⁴ samples, covered 46.0% o.v.","y":42.1},
{"s":"10⁵ samples, covered 51.0% o.v.","y":68.2},{"s":"10⁵ samples, covered 51.0% o.v.","y":40.3}
]}, "mark": {"type": "rule", "strokeWidth": 3},
 "encoding": {"x": {"datum": 0, "type": "quantitative", "scale": {"domain": [-5, 105], "nice": false}, "axis": null}, "x2": {"datum": 100},
  "color": {"field": "s", "type": "nominal", "scale": {"domain": ["10² samples, covered 32.0% o.v.","10³ samples, covered 56.0% o.v.","10⁴ samples, covered 46.0% o.v.","10⁵ samples, covered 51.0% o.v.","Ground truth"], "range": ["#bfa3da","#d62728","#ffb26e","#80c680","#79add2"]}, "legend": {"title": null, "symbolType": "M-1.25,0H2.75"}},
  "strokeDash": {"field": "s", "type": "nominal", "scale": {"domain": ["10² samples, covered 32.0% o.v.","10³ samples, covered 56.0% o.v.","10⁴ samples, covered 46.0% o.v.","10⁵ samples, covered 51.0% o.v.","Ground truth"], "range": [[3,4.7],[1,0],[3,4.7],[3,4.7],[1,0]]}, "legend": {"title": null, "symbolType": "M-1.25,0H2.75"}}}},
{"data": {"values": [{"s":"Ground truth","y":96.1},{"s":"Ground truth","y":4.1}]}, "mark": {"type": "rule", "strokeWidth": 3, "strokeDash": [25, 5, 3, 5]},
 "encoding": {"x": {"datum": 0, "type": "quantitative", "scale": {"domain": [-5, 105], "nice": false}, "axis": null}, "x2": {"datum": 100},
  "color": {"field": "s", "type": "nominal", "scale": {"domain": ["10² samples, covered 32.0% o.v.","10³ samples, covered 56.0% o.v.","10⁴ samples, covered 46.0% o.v.","10⁵ samples, covered 51.0% o.v.","Ground truth"], "range": ["#bfa3da","#d62728","#ffb26e","#80c680","#79add2"]}, "legend": {"title": null, "symbolType": "M-1.25,0H2.75"}}}}
]
}
],
"config": {
 "font": "DejaVu Sans",
 "view": {"stroke": "#333333", "strokeWidth": 1.2},
 "axisY": {"labels": false, "ticks": false, "domain": false, "grid": false, "titleFont": "DejaVu Sans", "titleFontSize": 12, "titleFontWeight": "normal", "titleColor": "#000000", "titlePadding": 2},
 "legend": {"orient": "top-right", "offset": 4, "labelFont": "DejaVu Sans", "labelFontSize": 10, "labelColor": "#000000", "labelLimit": 400, "labelOffset": 15.6, "symbolSize": 144, "symbolStrokeWidth": 3, "padding": 3, "rowPadding": 1, "fillColor": "rgba(255,255,255,0.8)", "strokeColor": "#cccccc", "cornerRadius": 3}
}
}
